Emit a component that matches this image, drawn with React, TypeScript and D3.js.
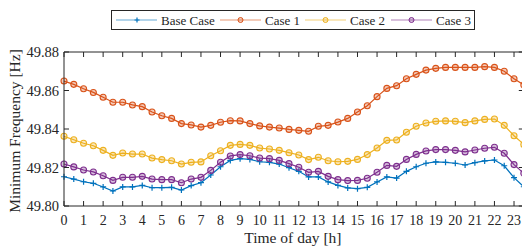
import { useEffect, useRef } from "react"
import * as d3 from "d3"

// half-hour steps, 0 .. 23.5
const hours = d3.range(48).map((i) => i / 2)

const baseCase = [
  49.8152, 49.814, 49.8126, 49.8118, 49.8099, 49.8078, 49.8099, 49.8099, 49.8107, 49.8095, 49.8095, 49.8097,
  49.8083, 49.8106, 49.8121, 49.8161, 49.8204, 49.8237, 49.8246, 49.8242, 49.823, 49.8227, 49.8218, 49.8199,
  49.818, 49.8151, 49.8151, 49.8125, 49.8107, 49.8094, 49.809, 49.8097, 49.8125, 49.8151, 49.8145, 49.818,
  49.8204, 49.8222, 49.8229, 49.8227, 49.8222, 49.8213, 49.8225, 49.8234, 49.8239, 49.8209, 49.8147, 49.81,
]
const case1 = [
  49.8649, 49.8632, 49.8609, 49.859, 49.8565, 49.8539, 49.8539, 49.8525, 49.8516, 49.8488, 49.8469, 49.8455,
  49.8428, 49.8421, 49.841, 49.8419, 49.8435, 49.8443, 49.8442, 49.8428, 49.8416, 49.841, 49.8405, 49.8398,
  49.8393, 49.8388, 49.8414, 49.8419, 49.8436, 49.8455, 49.8488, 49.8521, 49.8568, 49.8611, 49.8625, 49.8661,
  49.8684, 49.8706, 49.8715, 49.872, 49.872, 49.872, 49.872, 49.8724, 49.872, 49.87, 49.8661, 49.8629,
]
const case2 = [
  49.8362, 49.8344, 49.8326, 49.8313, 49.8289, 49.8263, 49.8275, 49.827, 49.827, 49.8249, 49.8241, 49.8235,
  49.8218, 49.8227, 49.8229, 49.8261, 49.8287, 49.8315, 49.832, 49.8315, 49.8301, 49.8296, 49.8289, 49.8277,
  49.8265, 49.8241, 49.8253, 49.8235, 49.823, 49.8232, 49.8242, 49.8267, 49.8301, 49.8341, 49.8343, 49.8383,
  49.8414, 49.8431, 49.844, 49.8442, 49.844, 49.8433, 49.8442, 49.845, 49.8452, 49.8419, 49.8365, 49.832,
]
const case3 = [
  49.8218, 49.8203, 49.8187, 49.8177, 49.8157, 49.8133, 49.8149, 49.8149, 49.8154, 49.814, 49.8137, 49.8137,
  49.8121, 49.814, 49.8149, 49.8185, 49.8227, 49.826, 49.8267, 49.8261, 49.8249, 49.8246, 49.8237, 49.822,
  49.8201, 49.8175, 49.818, 49.8154, 49.8137, 49.8132, 49.8133, 49.8144, 49.8175, 49.8211, 49.8206, 49.8242,
  49.8268, 49.8286, 49.8293, 49.8293, 49.8289, 49.8281, 49.8291, 49.83, 49.8305, 49.8274, 49.8215, 49.817,
]

const seriesNames = ["Base Case", "Case 1", "Case 2", "Case 3"]
const xTicks = d3.range(24)
const yTicks = [49.8, 49.82, 49.84, 49.86, 49.88]

const colors = ["#0072BD", "#D95319", "#EDB120", "#7E2F8E"]
const FONT = "'Liberation Serif', 'Times New Roman', serif"

export default function App() {
  const svgRef = useRef<SVGSVGElement>(null)

  useEffect(() => {
    if (!svgRef.current) return
    const svg = d3.select(svgRef.current)
    svg.selectAll("*").remove()

    const left = 64
    const top = 52
    const bottom = 206
    const right = 523.8
    const ink = "#262626"

    const x = d3.scaleLinear().domain([0, 23.5]).range([left, right])
    const y = d3.scaleLinear().domain([49.8, 49.88]).range([bottom, top])

    const allSeries = [baseCase, case1, case2, case3]

    // lines + markers
    allSeries.forEach((vals, si) => {
      const pts = hours.map((h, i) => ({ h, v: vals[i] }))
      const line = d3
        .line<{ h: number; v: number }>()
        .x((d) => x(d.h))
        .y((d) => y(d.v))
      svg
        .append("path")
        .datum(pts)
        .attr("fill", "none")
        .attr("stroke", colors[si])
        .attr("stroke-width", 1.2)
        .attr("d", line)

      if (si === 0) {
        svg
          .append("g")
          .selectAll("path")
          .data(pts)
          .enter()
          .append("path")
          .attr("d", (d) => `M${x(d.h) - 3},${y(d.v)}h6M${x(d.h)},${y(d.v) - 3}v6`)
          .attr("stroke", colors[si])
          .attr("stroke-width", 1.2)
      } else {
        svg
          .append("g")
          .selectAll("circle")
          .data(pts)
          .enter()
          .append("circle")
          .attr("cx", (d) => x(d.h))
          .attr("cy", (d) => y(d.v))
          .attr("r", 3)
          .attr("fill", colors[si])
          .attr("fill-opacity", 0.3)
          .attr("stroke", colors[si])
          .attr("stroke-width", 1.1)
      }
    })

    // box + inward ticks
    const axes = svg.append("g").attr("stroke", ink).attr("stroke-width", 1).attr("fill", "none")
    axes.append("path").attr("d", `M${right},${top}H${left}V${bottom}H${right}`)
    xTicks.forEach((t) => {
      axes.append("line").attr("x1", x(t)).attr("x2", x(t)).attr("y1", bottom).attr("y2", bottom - 5)
      axes.append("line").attr("x1", x(t)).attr("x2", x(t)).attr("y1", top).attr("y2", top + 5)
    })
    yTicks.forEach((t) => {
      axes.append("line").attr("x1", left).attr("x2", left + 5).attr("y1", y(t)).attr("y2", y(t))
      axes.append("line").attr("x1", right).attr("x2", right - 5).attr("y1", y(t)).attr("y2", y(t))
    })

    const labels = svg.append("g").attr("font-family", FONT).attr("fill", ink)
    labels
      .selectAll(".xt")
      .data(xTicks)
      .enter()
      .append("text")
      .attr("x", (d) => x(d))
      .attr("y", 225)
      .attr("text-anchor", "middle")
      .attr("font-size", 14)
      .text((d) => d)
    labels
      .selectAll(".yt")
      .data(yTicks)
      .enter()
      .append("text")
      .attr("x", left - 5)
      .attr("y", (d) => y(d) + 5)
      .attr("text-anchor", "end")
      .attr("font-size", 14.5)
      .text((d) => d3.format(".2f")(d))

    labels
      .append("text")
      .attr("x", (left + right) / 2 - 1)
      .attr("y", 243)
      .attr("text-anchor", "middle")
      .attr("font-size", 15.5)
      .text("Time of day [h]")
    labels
      .append("text")
      .attr("transform", `translate(20,${(top + bottom) / 2 + 2}) rotate(-90)`)
      .attr("text-anchor", "middle")
      .attr("font-size", 15.5)
      .text("Minimum Frequency [Hz]")

    // legend
    const lg = svg.append("g")
    lg.append("rect")
      .attr("x", 111.5)
      .attr("y", 10.5)
      .attr("width", 363)
      .attr("height", 19)
      .attr("fill", "#fff")
      .attr("stroke", ink)
      .attr("stroke-width", 1)
    const entryX = [116, 220, 305, 391]
    seriesNames.forEach((name, si) => {
      const ex = entryX[si]
      const ly = 20
      lg.append("line")
        .attr("x1", ex)
        .attr("x2", ex + 41)
        .attr("y1", ly)
        .attr("y2", ly)
        .attr("stroke", colors[si])
        .attr("stroke-opacity", 0.6)
        .attr("stroke-width", 1.2)
      if (si === 0) {
        lg.append("path")
          .attr("d", `M${ex + 18.5},${ly}h5M${ex + 21},${ly - 2.5}v5`)
          .attr("stroke", colors[si])
          .attr("stroke-width", 1.2)
      } else {
        lg.append("circle")
          .attr("cx", ex + 20.5)
          .attr("cy", ly)
          .attr("r", 2.5)
          .attr("fill", colors[si])
          .attr("fill-opacity", 0.3)
          .attr("stroke", colors[si])
          .attr("stroke-width", 1)
      }
      lg.append("text")
        .attr("x", ex + 45)
        .attr("y", 24.5)
        .attr("font-family", FONT)
        .attr("font-size", 13)
        .attr("fill", ink)
        .text(name)
    })
  }, [])

  return (
    <svg
      ref={svgRef}
      width={522}
      height={248}
      style={{ position: "absolute", left: 0, top: 0, background: "#fff" }}
    />
  )
}
